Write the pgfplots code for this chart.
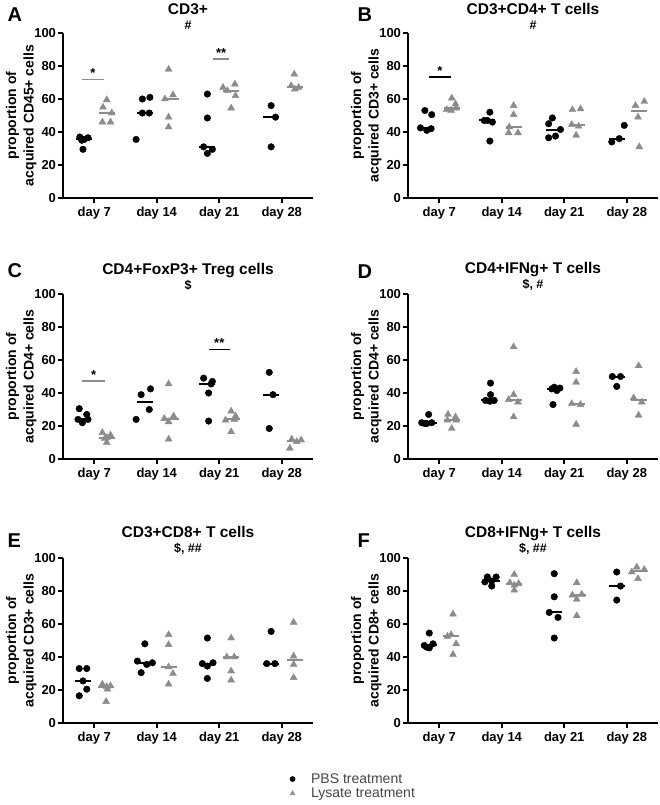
\documentclass[border=0pt]{standalone}
\usepackage{fontspec}
\setmainfont{Liberation Sans}
\usepackage{pgfplots}
\pgfplotsset{compat=1.18}
\definecolor{lysgray}{RGB}{140,140,140}
\definecolor{legtext}{RGB}{70,70,70}
\newcommand{\subt}{\fontsize{12.5}{13}\selectfont}
\pgfplotsset{
  panel/.style={
    anchor=south west, scale only axis, width=250pt, height=165pt,
    xmin=0, xmax=4, ymin=0, ymax=100,
    axis x line*=bottom, axis y line*=left,
    axis line style={line width=1.6pt},
    xtick={0.5,1.5,2.5,3.5}, xticklabels={day 7,day 14,day 21,day 28},
    ytick={0,20,40,60,80,100},
    tick align=outside, major tick length=5pt,
    tick style={line width=1.6pt, black},
    tick label style={font=\fontsize{13}{15}\selectfont\bfseries},
    /pgf/number format/assume math mode=true,
    yticklabel style={xshift=1.5pt},
    xticklabel style={yshift=-1pt},
    ylabel style={font=\fontsize{14}{17.5}\selectfont\bfseries, align=center, yshift=-9pt},
    title style={font=\fontsize{15.5}{16}\selectfont\bfseries, align=center, yshift=-6pt},
    clip=false,
  },
  pbs/.style={only marks, mark=*, mark size=3.3pt, black},
  lys/.style={only marks, mark=triangle*, mark size=4pt, lysgray},
  pbsmed/.style={only marks, mark=-, mark size=8pt, black, mark options={line width=2pt}, forget plot},
  lysmed/.style={only marks, mark=-, mark size=8pt, lysgray, mark options={line width=2pt}, forget plot},
  sigbar/.style={line width=1.4pt, forget plot},
}
\tikzset{sig/.style={font=\fontsize{13}{14}\selectfont\bfseries}}
\begin{document}
\begin{tikzpicture}
\useasboundingbox (0pt,0pt) rectangle (660pt,-805pt);

% ---------- A
\node[anchor=base west, font=\fontsize{20}{22}\selectfont\bfseries] at (4pt,-22pt) {A};
\begin{axis}[panel, at={(63pt,-198pt)},
  title={CD3+\\[-1pt]{\subt \#}}, ylabel={proportion of\\acquired CD45+ cells}]
\addplot[pbs] coordinates {(0.27,37) (0.40,36.5) (0.34,35.5) (0.30,35) (0.32,29.5)
  (1.27,60) (1.39,61) (1.27,51.5) (1.38,51.5) (1.17,35.5)
  (2.31,63) (2.31,48.5) (2.25,31) (2.39,29.5) (2.31,27)
  (3.33,56) (3.40,49) (3.33,31)};
\addplot[lys] coordinates {(0.70,59.5) (0.64,55) (0.78,51.5) (0.63,46) (0.76,46)
  (1.69,78) (1.76,62.5) (1.63,60) (1.69,49) (1.69,43)
  (2.56,67) (2.75,69) (2.63,65) (2.76,62) (2.69,54.5)
  (3.70,75) (3.65,68) (3.77,67) (3.71,66)};
\addplot[pbsmed] coordinates {(0.335,35.5) (1.31,51.5) (2.31,31) (3.33,49)};
\addplot[lysmed] coordinates {(0.70,51.5) (1.73,60) (2.69,65) (3.71,67.5)};
\addplot[sigbar, lysgray] coordinates {(0.30,71.7) (0.66,71.7)};
\addplot[sigbar, lysgray] coordinates {(2.40,84.2) (2.66,84.2)};
\node[sig] at (axis cs:0.48,75.5) {*};
\node[sig] at (axis cs:2.53,88) {**};
\end{axis}

% ---------- B
\node[anchor=base west, font=\fontsize{20}{22}\selectfont\bfseries] at (354pt,-22pt) {B};
\begin{axis}[panel, at={(408pt,-198pt)},
  title={CD3+CD4+ T cells\\[-1pt]{\subt \#}}, ylabel={proportion of\\acquired CD3+ cells}]
\addplot[pbs] coordinates {(0.27,53) (0.38,50.5) (0.20,42.5) (0.30,41) (0.37,42)
  (1.31,52) (1.22,47) (1.35,46) (1.27,47) (1.31,34.5)
  (2.31,48.5) (2.25,45) (2.44,41.5) (2.25,36.5) (2.36,37.5)
  (3.46,44) (3.26,34) (3.38,36)};
\addplot[lys] coordinates {(0.70,60.5) (0.76,57) (0.62,53.5) (0.69,53) (0.77,54.5)
  (1.69,56) (1.69,50.5) (1.62,43) (1.61,39.5) (1.76,39.5)
  (2.63,53.5) (2.76,54) (2.62,44.5) (2.73,43.5) (2.69,38)
  (3.78,58.5) (3.64,56) (3.68,49) (3.70,31)};
\addplot[pbsmed] coordinates {(0.28,42.5) (1.27,47) (2.33,41.5) (3.34,36)};
\addplot[lysmed] coordinates {(0.70,54.5) (1.69,43) (2.70,44.5) (3.70,52.5)};
\addplot[sigbar, black] coordinates {(0.33,73.3) (0.68,73.3)};
\node[sig] at (axis cs:0.51,77) {*};
\end{axis}

% ---------- C
\node[anchor=base west, font=\fontsize{20}{22}\selectfont\bfseries] at (4pt,-277pt) {C};
\begin{axis}[panel, at={(63pt,-459pt)},
  title={CD4+FoxP3+ Treg cells\\[-1pt]{\subt \$}}, ylabel={proportion of\\acquired CD4+ cells}]
\addplot[pbs] coordinates {(0.26,30.5) (0.38,27) (0.31,22) (0.24,24) (0.40,24)
  (1.40,42.5) (1.25,39) (1.38,30) (1.17,24)
  (2.25,49) (2.39,47) (2.37,45.5) (2.33,40) (2.33,23)
  (3.30,52.5) (3.36,39) (3.30,18.5)};
\addplot[lys] coordinates {(0.63,16) (0.76,14.5) (0.70,13) (0.67,12.5) (0.70,10)
  (1.69,45.5) (1.62,24.5) (1.77,26) (1.69,22.5) (1.69,12)
  (2.69,29) (2.76,26) (2.60,23.5) (2.69,16.5) (2.74,24)
  (3.63,6.5) (3.66,12) (3.74,10.5) (3.81,11.5)};
\addplot[pbsmed] coordinates {(0.32,24) (1.31,34.5) (2.31,45.5) (3.33,39)};
\addplot[lysmed] coordinates {(0.70,13) (1.72,24) (2.71,24) (3.71,11)};
\addplot[sigbar, lysgray] coordinates {(0.31,47.3) (0.67,47.3)};
\addplot[sigbar, black] coordinates {(2.33,66.4) (2.67,66.4)};
\node[sig] at (axis cs:0.49,51) {*};
\node[sig] at (axis cs:2.50,70) {**};
\end{axis}

% ---------- D
\node[anchor=base west, font=\fontsize{20}{22}\selectfont\bfseries] at (354pt,-278pt) {D};
\begin{axis}[panel, at={(408pt,-459pt)},
  title={CD4+IFNg+ T cells\\[-1pt]{\subt \$, \#}}, ylabel={proportion of\\acquired CD4+ cells}]
\addplot[pbs] coordinates {(0.33,27) (0.22,22) (0.30,21.5) (0.38,22) (0.27,21.5)
  (1.32,46) (1.32,39) (1.24,35.5) (1.38,35.5) (1.31,35)
  (2.34,43.5) (2.43,43) (2.38,41.5) (2.30,42.5) (2.32,33)
  (3.27,50) (3.40,50) (3.34,44)};
\addplot[lys] coordinates {(0.64,27) (0.76,25.5) (0.63,23.5) (0.70,18.5) (0.77,23.5)
  (1.69,68) (1.69,39) (1.61,36) (1.76,34.5) (1.69,25.5)
  (2.69,53) (2.69,46.5) (2.62,33.5) (2.76,33) (2.69,21)
  (3.69,56.5) (3.61,37) (3.74,34.5) (3.69,26.5)};
\addplot[pbsmed] coordinates {(0.33,22) (1.30,35.5) (2.35,42.5) (3.34,50)};
\addplot[lysmed] coordinates {(0.70,23.5) (1.69,36) (2.70,33.5) (3.69,35.75)};
\end{axis}

% ---------- E
\node[anchor=base west, font=\fontsize{20}{22}\selectfont\bfseries] at (4pt,-547pt) {E};
\begin{axis}[panel, at={(63pt,-723pt)},
  title={CD3+CD8+ T cells\\[-1pt]{\subt \$, \#\#}}, ylabel={proportion of\\acquired CD3+ cells},
  legend style={at={(0.895,-0.28)}, anchor=north west, draw=none, fill=none,
    font=\fontsize{14}{15}\selectfont\color{legtext}, row sep=-1pt,
    cells={anchor=west}, /tikz/every odd column/.append style={column sep=14pt}},
  legend image post style={mark size=2.6pt}]
\addplot[pbs] coordinates {(0.26,33) (0.38,33) (0.32,25.5) (0.38,20.5) (0.26,16.5)
  (1.31,48) (1.19,37.5) (1.43,36.5) (1.34,35.5) (1.25,30.5)
  (2.31,51.5) (2.40,36.5) (2.23,36) (2.31,34.5) (2.31,27)
  (3.33,55.5) (3.26,36) (3.39,36)};
\addlegendentry{PBS treatment}
\addplot[lys] coordinates {(0.63,23.5) (0.76,22.5) (0.70,22) (0.71,20.5) (0.69,13)
  (1.69,53.5) (1.69,47.5) (1.69,34) (1.76,30) (1.69,23.5)
  (2.69,51.5) (2.62,40) (2.74,40) (2.69,31.5) (2.69,26)
  (3.69,61) (3.69,40.5) (3.69,35.5) (3.69,27.5)};
\addlegendentry{Lysate treatment}
\addplot[pbsmed] coordinates {(0.32,25.5) (1.31,36.5) (2.31,36) (3.33,36)};
\addplot[lysmed] coordinates {(0.69,22) (1.69,34) (2.69,40) (3.71,38)};
\end{axis}

% ---------- F
\node[anchor=base west, font=\fontsize{20}{22}\selectfont\bfseries] at (354pt,-547pt) {F};
\begin{axis}[panel, at={(408pt,-723pt)},
  title={CD8+IFNg+ T cells\\[-1pt]{\subt \$, \#\#}}, ylabel={proportion of\\acquired CD8+ cells}]
\addplot[pbs] coordinates {(0.34,54.5) (0.40,48) (0.26,47) (0.30,46) (0.34,45.5)
  (1.27,88.5) (1.41,88.5) (1.34,86) (1.23,85.5) (1.34,83)
  (2.34,90.5) (2.34,76.5) (2.26,67) (2.40,64) (2.34,51.5)
  (3.34,91.5) (3.40,83) (3.34,74.5)};
\addplot[lys] coordinates {(0.72,66) (0.69,53.5) (0.63,52.5) (0.77,48) (0.72,41.5)
  (1.70,90) (1.63,85) (1.77,84.5) (1.70,83.5) (1.70,80.5)
  (2.70,85) (2.78,78) (2.63,77.5) (2.70,75) (2.70,65)
  (3.66,94.5) (3.78,93) (3.58,91.5) (3.68,87.5)};
\addplot[pbsmed] coordinates {(0.33,47) (1.34,86) (2.34,67) (3.34,83)};
\addplot[lysmed] coordinates {(0.69,52.5) (1.70,84.5) (2.72,77.5) (3.70,92.25)};
\end{axis}
\end{tikzpicture}
\end{document}
